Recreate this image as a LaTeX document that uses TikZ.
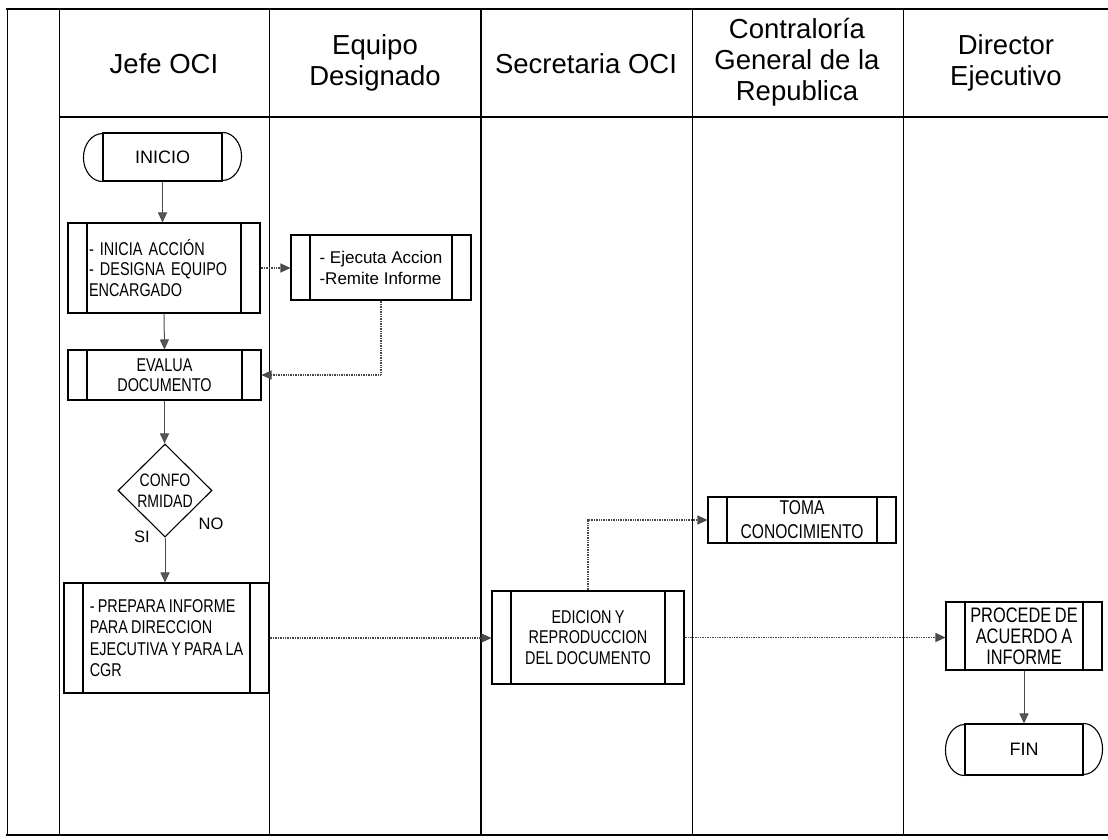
\documentclass[tikz,border=0pt]{standalone}
\usepackage{fontspec}
\setmainfont{Liberation Sans}
\newfontfamily\narrowsans[FakeStretch=0.78,WordSpace=0.8]{Liberation Sans}
\usetikzlibrary{arrows.meta,shapes.geometric,calc}

\begin{document}
\begin{tikzpicture}[x=1pt,y=-1pt,
  lane/.style={line width=1.3pt},
  frameline/.style={line width=2.6pt},
  hdr/.style={font=\fontsize{27.5}{31}\selectfont, align=center, inner sep=0pt},
  proc/.style={draw, line width=1.1pt, rectangle, inner ysep=0pt,
    path picture={\draw[line width=1.1pt]
      ([xshift=19pt]path picture bounding box.north west) -- ([xshift=19pt]path picture bounding box.south west)
      ([xshift=-19pt]path picture bounding box.north east) -- ([xshift=-19pt]path picture bounding box.south east);}},
  narrowtxt/.style={font=\narrowsans\fontsize{18.5}{20.5}\selectfont},
  term/.style={draw, line width=1.1pt, rectangle, minimum width=119pt, inner sep=0pt,
    font=\fontsize{18}{21}\selectfont},
  flow/.style={-{Triangle[length=10pt,width=9pt,fill=black!65]}, line width=1pt, draw=black!70},
  dotflow/.style={-{Triangle[length=10pt,width=9pt,fill=black!70]}, line width=1.2pt, draw=black!72,
    dash pattern=on 1pt off 0.7pt},
  lbl/.style={font=\fontsize{16.5}{19}\selectfont, inner sep=0pt}
]
\useasboundingbox (0,0) rectangle (1108,839);

% frame and swimlanes
\draw[frameline] (6,9) -- (1108,9);
\draw[frameline] (6,835) -- (1108,835);
\draw[lane] (7.5,9) -- (7.5,835);
\draw[lane] (59.5,9) -- (59.5,835);
\draw[lane] (269.5,9) -- (269.5,835);
\draw[lane] (481,9) -- (481,835);
\draw[lane] (692.5,9) -- (692.5,835);
\draw[lane] (903.5,9) -- (903.5,835);
\draw[lane] (59.5,117) -- (1108,117);

% lane headers
\node[hdr] (hjefe) at (164,64) {Jefe OCI};
\node[hdr] (hequipo) at (375,63) {Equipo\\Designado};
\node[hdr] (hsecre) at (586,64) {Secretaria OCI};
\node[hdr] (hcgr) at (797,62) {Contraloría\\General de la\\Republica};
\node[hdr] (hdir) at (1006,63) {Director\\Ejecutivo};

% start terminal
\node[term, minimum height=48pt] (inicio) at (162.5,157) {INICIO};
\draw[line width=1.1pt] (inicio.north east) arc[start angle=-90,end angle=90,x radius=19,y radius=24]
  (inicio.south west) arc[start angle=90,end angle=270,x radius=19,y radius=24];

% process boxes
\node[proc, narrowtxt, minimum width=192pt, minimum height=90pt, text width=150pt, inner xsep=21pt, align=left]
  (inicia) at (164,268) {- INICIA ACCIÓN\\- DESIGNA EQUIPO\\ENCARGADO};
\node[proc, font=\fontsize{17}{21}\selectfont, minimum width=180pt, minimum height=65pt, align=left]
  (ejecuta) at (381,267.5) {- Ejecuta Accion\\-Remite Informe};
\node[proc, narrowtxt, minimum width=193pt, minimum height=50pt, align=center]
  (evalua) at (164.5,375) {EVALUA\\DOCUMENTO};
\node[diamond, draw, line width=1.1pt, shape aspect=1, minimum width=94pt, minimum height=93pt, inner sep=0pt,
  align=center, font=\narrowsans\fontsize{18}{20.5}\selectfont]
  (conf) at (165,490.5) {CONFO\\RMIDAD};
\node[lbl] (si) at (142,537) {SI};
\node[lbl] (no) at (211,524) {NO};
\node[proc, minimum width=205pt, minimum height=110pt, align=left,
  font=\narrowsans\fontsize{18.5}{21.5}\selectfont]
  (prepara) at (166.5,638) {- PREPARA INFORME\\PARA DIRECCION\\EJECUTIVA Y PARA LA\\CGR};
\node[proc, narrowtxt, minimum width=192pt, minimum height=93pt, align=center]
  (edicion) at (588,637.5) {EDICION Y\\REPRODUCCION\\DEL DOCUMENTO};
\node[proc, font=\narrowsans\fontsize{20}{24}\selectfont, minimum width=188pt, minimum height=46pt, align=center]
  (toma) at (802,520) {TOMA\\CONOCIMIENTO};
\node[proc, font=\narrowsans\fontsize{21}{21}\selectfont, minimum width=156pt, minimum height=68pt, align=center]
  (procede) at (1024,636) {PROCEDE DE\\ACUERDO A\\INFORME};

% end terminal
\node[term, minimum height=51pt, minimum width=118pt] (fin) at (1024,749.5) {FIN};
\draw[line width=1.1pt] (fin.north east) arc[start angle=-90,end angle=90,x radius=19,y radius=25.5]
  (fin.south west) arc[start angle=90,end angle=270,x radius=19,y radius=25.5];

% connectors
\draw[flow] (inicio.south) -- (inicio.south |- inicia.north);
\draw[dotflow] (inicia.east) -- (inicia.east -| ejecuta.west);
\draw[flow] (inicia.south) -- (evalua.north);
\draw[dotflow] (ejecuta.south) |- (evalua.east);
\draw[flow] (evalua.south) -- (evalua.south |- conf.north);
\draw[flow] (conf.south) -- (conf.south |- prepara.north);
\draw[dotflow] (prepara.east) -- (prepara.east -| edicion.west);
\draw[dotflow] (edicion.north) |- (toma.west);
\draw[dotflow] (edicion.east) -- (edicion.east -| procede.west);
\draw[flow] (procede.south) -- (fin.north);
\end{tikzpicture}
\end{document}
